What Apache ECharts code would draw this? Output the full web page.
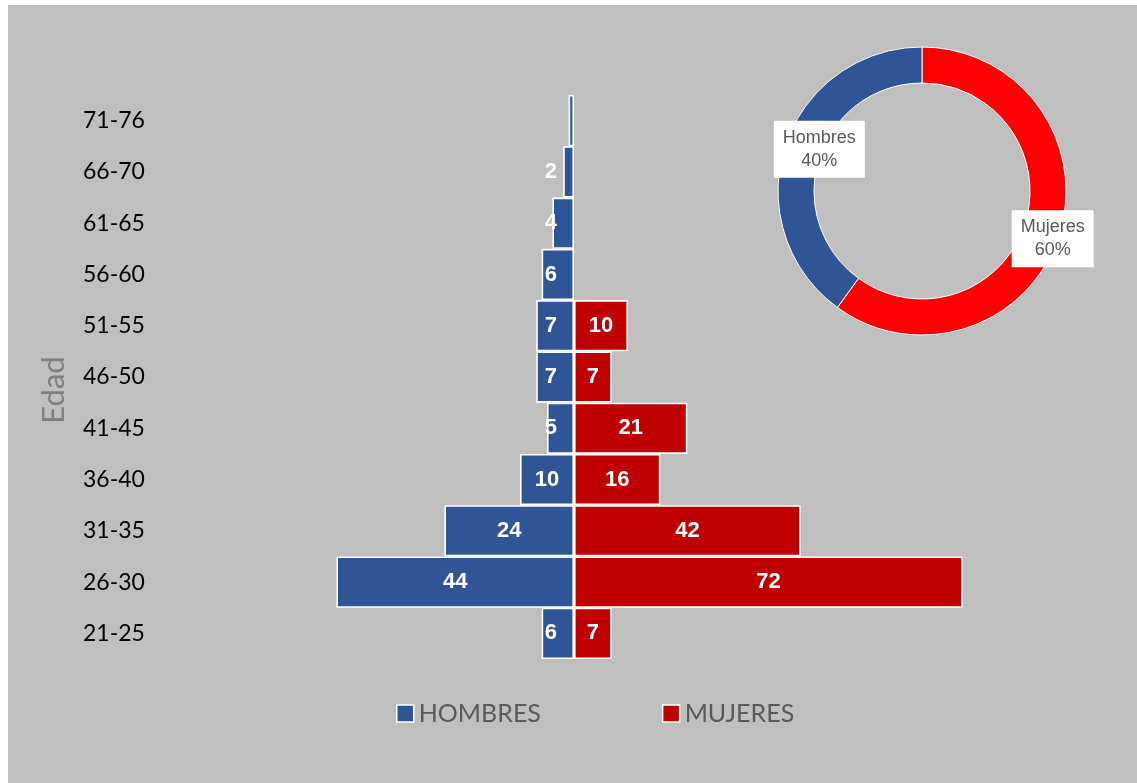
<!DOCTYPE html>
<html>
<head>
<meta charset="utf-8">
<script src="https://cdn.jsdelivr.net/npm/echarts@6/dist/echarts.min.js"></script>
<style>
html,body{margin:0;padding:0;background:#ffffff;}
#chart{width:1137px;height:783px;}
</style>
</head>
<body>
<div id="chart"></div>
<script>
const categories = ['21-25','26-30','31-35','36-40','41-45','46-50','51-55','56-60','61-65','66-70','71-76'];
const hombres = [6, 44, 24, 10, 5, 7, 7, 6, 4, 2, 1];
const mujeres = [7, 72, 42, 16, 21, 7, 10, null, null, null, null];
const pieNames = ['Mujeres', 'Hombres'];
const pieValues = [60, 40];
const legendNames = ['HOMBRES', 'MUJERES'];

const C_H = '#2F5597', C_M = '#C00000';
const barLabelFont = {color:'#ffffff', fontFamily:'Liberation Sans', fontWeight:'bold', fontSize:22};

const hData = hombres.map(v => {
  const item = {value: -v};
  if (v < 2) item.label = {show:false};
  else if (v < 10) item.label = {position:'insideRight', distance:17};
  return item;
});
const mData = mujeres.map(v => v == null ? '-' : v);

const chart = echarts.init(document.getElementById('chart'), null, {renderer:'canvas'});
chart.setOption({
  backgroundColor:'#ffffff',
  animation:false,
  graphic:[{type:'rect', z:-10, silent:true, shape:{x:8,y:5,width:1129,height:778}, style:{fill:'#bfbfbf'}}],
  grid:{left:304, top:95, width:702, height:564},
  xAxis:{type:'value', min:-50, max:80, show:false},
  yAxis:{
    type:'category', data:categories,
    name:'Edad', nameLocation:'middle', nameGap:235, nameRotate:90,
    nameTextStyle:{color:'#7f7f7f', fontFamily:'Lato', fontSize:31, padding:[0,26,0,0]},
    axisLine:{show:false, onZero:false}, axisTick:{show:false},
    axisLabel:{align:'left', margin:221, color:'#000000', fontFamily:'Lato', fontSize:23, padding:[8,0,0,0]}
  },
  legend:{
    data:legendNames, left:391, top:696, itemWidth:17, itemHeight:17, itemGap:121,
    icon:'rect',
    itemStyle:{borderColor:'#ffffff', borderWidth:1.5},
    textStyle:{color:'#595959', fontFamily:'Lato', fontSize:25}
  },
  series:[
    {
      name:'HOMBRES', type:'bar', data:hData, barGap:'-100%', barCategoryGap:'0%',
      itemStyle:{color:C_H, borderColor:'#ffffff', borderWidth:1.6},
      label:Object.assign({show:true, position:'inside', formatter:p => Math.abs(p.value)}, barLabelFont)
    },
    {
      name:'MUJERES', type:'bar', data:mData, barGap:'-100%', barCategoryGap:'0%',
      itemStyle:{color:C_M, borderColor:'#ffffff', borderWidth:1.6},
      label:Object.assign({show:true, position:'inside'}, barLabelFont)
    },
    {
      name:'pie', type:'pie', center:[922,191], radius:[108,144], startAngle:90, clockwise:true,
      data:pieNames.map((n,i)=>({name:n, value:pieValues[i], itemStyle:{color: n==='Hombres' ? C_H : '#FF0000'}})),
      itemStyle:{borderColor:'#ffffff', borderWidth:1},
      label:{
        show:true, position:'inside', formatter:'{b}\n{d}%',
        backgroundColor:'#ffffff', padding:[6,9,5,9], color:'#595959',
        fontFamily:'Liberation Sans', fontSize:18, lineHeight:23, align:'center'
      },
      labelLayout: p => p.dataIndex === 1 ? {dx:20, dy:-2} : {dx:8, dy:8},
      emphasis:{disabled:true}
    }
  ]
});
</script>
</body>
</html>
